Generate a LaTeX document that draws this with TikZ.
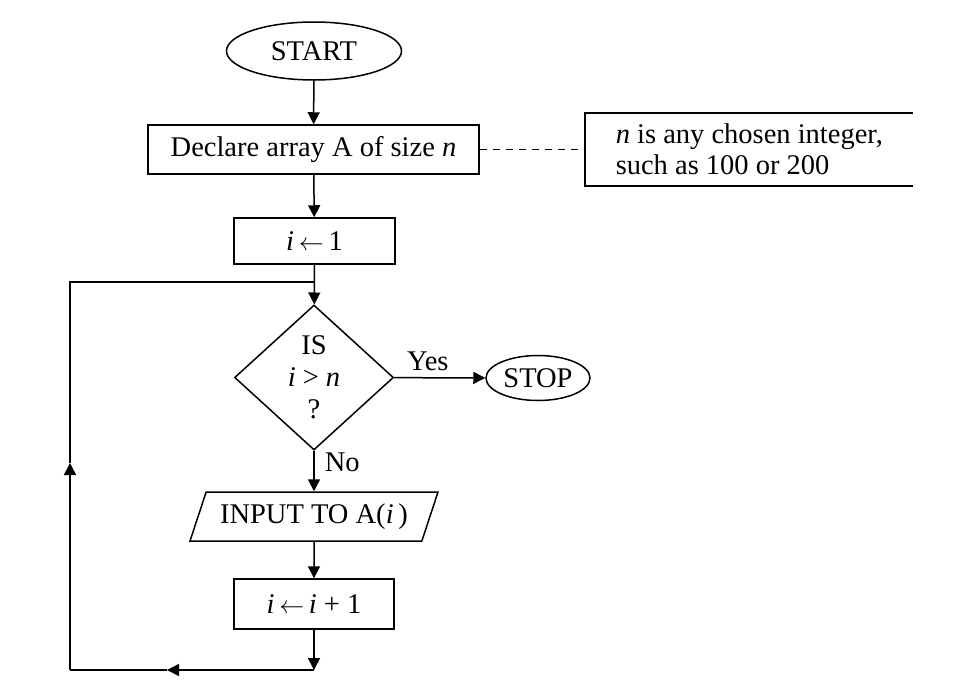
\documentclass[tikz,border=0pt]{standalone}
\usepackage{fontspec}
\setmainfont{Liberation Serif}
\usetikzlibrary{arrows.meta,shapes.geometric}
\begin{document}
\begin{tikzpicture}[x=1pt,y=-1pt, line width=1.5pt,
  >={Triangle[length=12pt,width=12pt]},
  font=\fontsize{28.5}{32}\selectfont,
  term/.style={ellipse, draw, inner sep=0pt},
  proc/.style={rectangle, draw, inner sep=0pt},
  lbl/.style={inner sep=0pt}]
\useasboundingbox (0,0) rectangle (958,694);
\node[term, minimum width=175pt, minimum height=58pt] (start) at (314,51) {START};
\node[proc, minimum width=331pt, minimum height=49pt] (decl) at (313.5,149.5) {Declare array A of size \textit{n}};
\coordinate (ntr) at (913,113);
\coordinate (ntl) at (585,113);
\coordinate (nml) at (585,149.5);
\coordinate (nbl) at (585,186);
\coordinate (nbr) at (913,186);
\node[lbl, anchor=west, align=left, font=\fontsize{28.5}{31}\selectfont] (note) at (615,149) {\textit{n} is any chosen integer,\\such as 100 or 200};
\draw (ntr) -- (ntl) -- (nbl) -- (nbr);
\draw[dash pattern=on 7pt off 6pt] (decl.east) -- (nml);
\node[proc, minimum width=161pt, minimum height=46pt] (init) at (314.5,241) {\textit{i}\,$\leftarrow$\,1};
\node[diamond, draw, minimum width=159pt, minimum height=145pt, inner sep=0pt] (dec) at (314,377.5) {};
\node[lbl, align=center] (dectext) at (dec.center) {IS\\\textit{i} > \textit{n}\\?};
\node[term, minimum width=104pt, minimum height=45pt] (stop) at (538,378) {STOP};
\node[trapezium, draw, trapezium left angle=58, trapezium right angle=122, trapezium stretches body, minimum width=248pt, minimum height=49pt, inner sep=0pt] (inp) at (314,516.5) {INPUT TO A(\textit{i}\,)};
\node[proc, minimum width=160pt, minimum height=50pt] (inc) at (314,604) {\textit{i}\,$\leftarrow$\,\textit{i} + 1};
\coordinate (j1) at (314,282);
\coordinate (b) at (314,670);
\coordinate (bl) at (70,670);
\coordinate (tl) at (70,282);
\coordinate (m1) at (167,670);
\coordinate (m2) at (70,463);
\draw[->] (start) -- (decl);
\draw[->] (decl) -- (init);
\draw[->] (init) -- (dec);
\draw[->] (dec) -- node[lbl, above=6pt, pos=0.37] (yes) {Yes} (stop);
\draw[->] (dec) -- (inp);
\node[lbl, anchor=west] (no) at (324,462) {No};
\draw[->] (inp) -- (inc);
\draw[->] (inc) -- (b);
\draw[->] (b) -- (m1);
\draw (m1) -- (bl);
\draw[->] (bl) -- (m2);
\draw (m2) -- (tl) -- (j1);
\end{tikzpicture}
\end{document}
